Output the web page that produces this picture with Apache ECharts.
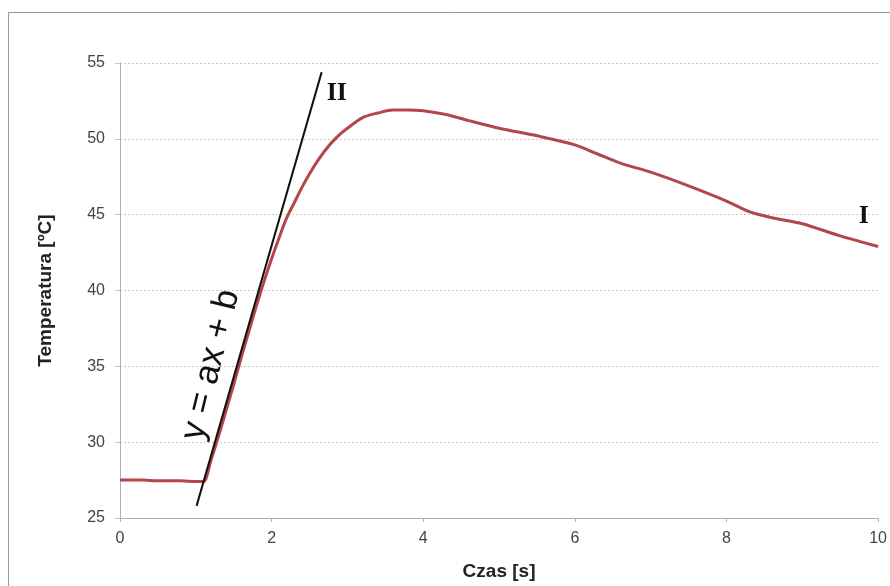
<!DOCTYPE html>
<html>
<head>
<meta charset="utf-8">
<script src="https://cdn.jsdelivr.net/npm/echarts@6/dist/echarts.min.js"></script>
<style>
  html, body { margin: 0; padding: 0; background: #fff; }
  #chart { width: 890px; height: 586px; }
</style>
</head>
<body>
<div id="chart"></div>
<script>
  // czas [s]
  const czas = [0, 0.3, 0.5, 0.8, 1.0, 1.1, 1.2, 1.3, 1.4, 1.5, 1.6, 1.7, 1.8, 1.9, 2.0, 2.1, 2.2, 2.3, 2.4, 2.5,
    2.6, 2.7, 2.8, 2.9, 3.0, 3.2, 3.4, 3.6, 3.8, 4.0, 4.3, 4.6, 5.0, 5.5, 6.0, 6.3, 6.6, 7.0, 7.5, 8.0,
    8.3, 8.6, 9.0, 9.5, 10]
  // temperatura [ºC], krzywa I
  const temperatura = [27.5, 27.5, 27.45, 27.45, 27.4, 27.4, 28.8, 30.4, 32.1, 33.8, 35.6, 37.3, 39.0, 40.6, 42.1, 43.5, 44.8, 45.8, 46.8, 47.7,
    48.5, 49.2, 49.8, 50.3, 50.7, 51.4, 51.7, 51.9, 51.9, 51.85, 51.6, 51.2, 50.7, 50.2, 49.6, 49.0, 48.4, 47.8, 46.9, 45.9,
    45.2, 44.8, 44.4, 43.6, 42.9]
  // prosta II: y = ax + b
  const styczna = [[1.01, 25.8], [2.66, 54.4]]

  const chart = echarts.init(document.getElementById('chart'))
  const gridStyle = { color: '#c8c8c8', type: [2, 2], width: 1 }
  const nameFont = { fontFamily: 'Liberation Sans', fontWeight: 'bold', fontSize: 19, color: '#222' }

  chart.setOption({
    animation: false,
    grid: { left: 120, right: 10, top: 63, bottom: 67 },
    xAxis: {
      type: 'value', min: 0, max: 10, interval: 2,
      name: 'Czas [s]', nameLocation: 'middle', nameGap: 44,
      nameTextStyle: nameFont,
      axisLine: { lineStyle: { color: '#b0b0b0' } },
      axisTick: { show: true, length: 4, lineStyle: { color: '#b0b0b0' } },
      axisLabel: { fontFamily: 'Liberation Sans', fontSize: 16, color: '#444', margin: 13 },
      splitLine: { show: false }
    },
    yAxis: {
      type: 'value', min: 25, max: 55, interval: 5,
      name: 'Temperatura [ºC]', nameLocation: 'middle', nameGap: 65,
      nameTextStyle: nameFont,
      axisLine: { show: true, lineStyle: { color: '#b0b0b0' } },
      axisTick: { show: true, length: 5, lineStyle: { color: '#c8c8c8' } },
      axisLabel: { fontFamily: 'Liberation Sans', fontSize: 16, color: '#444', margin: 15 },
      splitLine: { show: true, lineStyle: gridStyle }
    },
    series: [
      {
        name: 'I', type: 'line', showSymbol: false, smooth: 0.3,
        data: czas.map((x, i) => [x, temperatura[i]]),
        lineStyle: { color: '#b3464a', width: 3 },
        z: 2
      },
      {
        name: 'II', type: 'line', showSymbol: false,
        data: styczna,
        lineStyle: { color: '#111', width: 2 },
        z: 3
      }
    ]
  })

  // adnotacje w jednostkach danych
  const napisy = [
    { text: 'II', at: [2.86, 53.0], font: 'bold 26px "Liberation Serif"', rot: 0 },
    { text: 'I', at: [9.81, 44.9], font: 'bold 26px "Liberation Serif"', rot: 0 },
    { text: 'y = ax + b', at: [1.2, 35.1], font: '35px "Liberation Sans"', rot: 1.33 }
  ]
  const graphic = napisy.map(n => {
    const p = chart.convertToPixel({ gridIndex: 0 }, n.at)
    return {
      type: 'text', x: p[0], y: p[1], rotation: n.rot,
      style: { text: n.text, font: n.font, fill: '#111', align: 'center', verticalAlign: 'middle' }
    }
  })
  graphic.push({
    type: 'rect', shape: { x: 8.5, y: 12.5, width: 900, height: 600 },
    style: { fill: 'none', stroke: '#9a9a9a', lineWidth: 1 }, silent: true
  })
  chart.setOption({ graphic: graphic })
</script>
</body>
</html>
